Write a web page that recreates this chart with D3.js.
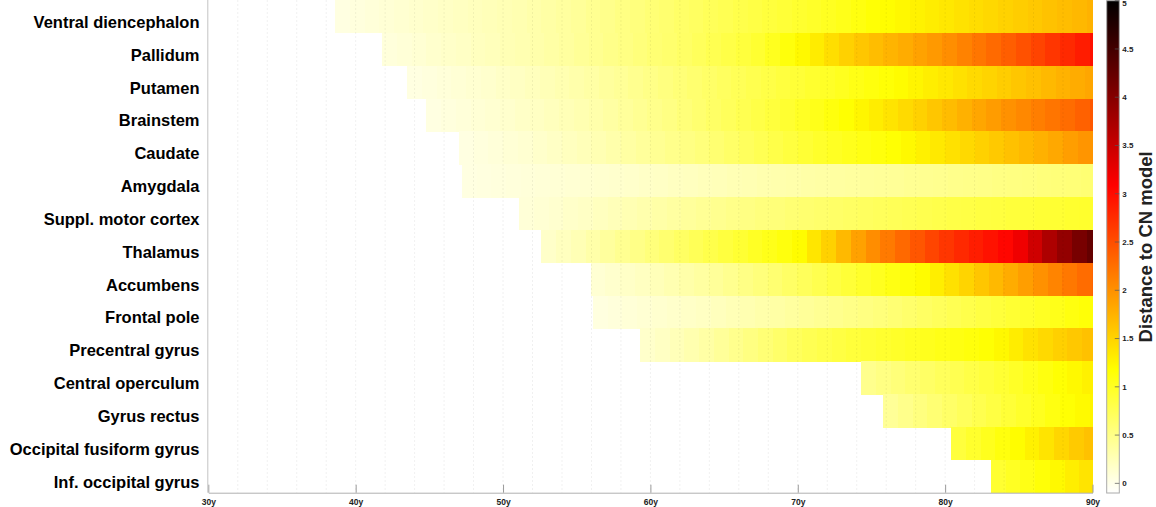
<!DOCTYPE html>
<html>
<head>
<meta charset="utf-8">
<script src="https://cdn.jsdelivr.net/npm/d3@7"></script>
<style>
  body { margin: 0; background: #fff; }
  text { font-family: "Liberation Sans", Arial, Helvetica, sans-serif; }
</style>
</head>
<body>
<div id="chart"></div>
<script>
// regions, top to bottom
const regions = ["Ventral diencephalon", "Pallidum", "Putamen", "Brainstem", "Caudate",
  "Amygdala", "Suppl. motor cortex", "Thalamus", "Accumbens", "Frontal pole",
  "Precentral gyrus", "Central operculum", "Gyrus rectus", "Occipital fusiform gyrus",
  "Inf. occipital gyrus"];

// age (years) where each row starts
const startAges = [38.6, 41.8, 43.5, 44.8, 47.0, 47.2, 51.1, 52.6, 55.95, 56.1,
  59.3, 74.3, 75.8, 80.4, 83.1];

// distance to CN model, one value per 1-year cell from the start age up to 90y
const ventralDiencephalon = [0.05,0.07,0.09,0.11,0.13,0.15,0.17,0.19,0.21,0.23,0.25,0.27,0.29,0.32,0.35,0.38,0.41,0.45,0.48,0.52,0.55,0.59,0.62,0.66,0.69,0.73,0.76,0.8,0.83,0.87,0.9,0.94,0.97,1.01,1.05,1.1,1.15,1.19,1.23,1.27,1.31,1.35,1.39,1.43,1.47,1.51,1.55,1.59,1.63,1.67,1.71,1.75];
const pallidum = [0.08,0.1,0.12,0.15,0.17,0.19,0.22,0.24,0.27,0.29,0.32,0.35,0.38,0.42,0.45,0.49,0.52,0.56,0.6,0.63,0.67,0.72,0.77,0.82,0.87,0.93,1.02,1.12,1.22,1.32,1.42,1.52,1.6,1.67,1.74,1.8,1.87,1.94,2.02,2.11,2.2,2.29,2.38,2.48,2.58,2.68,2.78,2.88,2.97];
const putamen = [0.05,0.07,0.09,0.11,0.13,0.15,0.18,0.2,0.23,0.26,0.29,0.32,0.35,0.39,0.42,0.46,0.5,0.54,0.58,0.62,0.66,0.7,0.74,0.78,0.82,0.86,0.9,0.94,0.98,1.02,1.07,1.11,1.15,1.2,1.25,1.3,1.35,1.4,1.45,1.5,1.55,1.6,1.65,1.7,1.75,1.8,1.84];
const brainstem = [0.05,0.07,0.09,0.11,0.13,0.15,0.18,0.2,0.23,0.26,0.29,0.32,0.36,0.4,0.44,0.48,0.52,0.57,0.62,0.67,0.72,0.77,0.82,0.87,0.93,0.99,1.05,1.11,1.17,1.24,1.31,1.38,1.45,1.52,1.6,1.68,1.76,1.84,1.92,2.0,2.07,2.14,2.21,2.28,2.36,2.43];
const caudate = [0.05,0.07,0.09,0.11,0.13,0.16,0.19,0.22,0.25,0.28,0.32,0.36,0.4,0.44,0.48,0.52,0.56,0.61,0.66,0.71,0.76,0.81,0.86,0.91,0.96,1.0,1.04,1.08,1.12,1.16,1.22,1.28,1.34,1.4,1.46,1.52,1.58,1.64,1.7,1.76,1.83,1.9,1.97];
const amygdala = [0.05,0.06,0.07,0.08,0.09,0.1,0.11,0.12,0.13,0.14,0.15,0.16,0.18,0.19,0.21,0.22,0.24,0.25,0.27,0.28,0.3,0.31,0.32,0.34,0.35,0.37,0.38,0.4,0.41,0.42,0.44,0.45,0.46,0.48,0.49,0.5,0.52,0.53,0.54,0.56,0.57,0.58,0.6];
const supplMotor = [0.1,0.12,0.14,0.17,0.19,0.22,0.25,0.28,0.31,0.34,0.37,0.4,0.43,0.46,0.49,0.52,0.55,0.57,0.6,0.62,0.64,0.66,0.68,0.7,0.72,0.74,0.76,0.78,0.8,0.82,0.83,0.85,0.86,0.88,0.89,0.91,0.92,0.94,0.95];
const thalamus = [0.17,0.22,0.27,0.33,0.39,0.45,0.5,0.56,0.62,0.68,0.74,0.8,0.86,0.92,0.99,1.05,1.11,1.2,1.36,1.52,1.7,1.88,2.03,2.17,2.3,2.44,2.57,2.68,2.78,2.87,2.95,3.04,3.2,3.45,3.7,3.9,4.1,4.25];
const accumbens = [0.12,0.15,0.18,0.21,0.25,0.29,0.33,0.37,0.41,0.46,0.51,0.56,0.61,0.67,0.72,0.78,0.84,0.9,0.96,1.02,1.08,1.14,1.2,1.3,1.4,1.5,1.6,1.7,1.8,1.9,2.0,2.1,2.19,2.28,2.33];
const frontalPole = [0.06,0.08,0.1,0.12,0.14,0.16,0.18,0.2,0.23,0.26,0.29,0.32,0.35,0.38,0.41,0.44,0.47,0.5,0.53,0.56,0.6,0.64,0.68,0.72,0.76,0.8,0.84,0.88,0.92,0.96,1.0,1.05,1.1,1.14];
const precentral = [0.16,0.2,0.25,0.3,0.35,0.41,0.47,0.53,0.59,0.65,0.71,0.76,0.8,0.84,0.88,0.91,0.94,0.97,1.0,1.03,1.06,1.09,1.12,1.16,1.23,1.31,1.39,1.46,1.53,1.59,1.64];
const centralOperculum = [0.47,0.52,0.57,0.62,0.67,0.72,0.77,0.82,0.87,0.92,0.98,1.04,1.1,1.16,1.22,1.28];
const gyrusRectus = [0.42,0.48,0.54,0.6,0.66,0.72,0.78,0.84,0.9,0.96,1.02,1.09,1.16,1.21,1.25];
const occFusiform = [0.87,0.95,1.03,1.11,1.19,1.28,1.38,1.48,1.57,1.64];
const infOccipital = [0.93,1.0,1.07,1.14,1.22,1.3,1.38];

const rowValues = [ventralDiencephalon, pallidum, putamen, brainstem, caudate, amygdala,
  supplMotor, thalamus, accumbens, frontalPole, precentral, centralOperculum,
  gyrusRectus, occFusiform, infOccipital];

const ageTicks = [30, 40, 50, 60, 70, 80, 90];
const cbarTicks = [0, 0.5, 1, 1.5, 2, 2.5, 3, 3.5, 4, 4.5, 5];

// layout
const W = 1156, H = 507;
const plot = { left: 208.3, right: 1092.5, top: 0, bottom: 492.7 };

const svg = d3.select("#chart").append("svg")
  .attr("width", W).attr("height", H);

const x = d3.scaleLinear().domain([30, 90]).range([plot.left, plot.right]);
const y = d3.scaleBand().domain(regions).range([plot.top, plot.bottom]).padding(0);

// flipped "hot" colormap: white -> yellow -> red -> black
const vmin = -0.1, vmax = 5;
const hotStops = [vmin, vmin + 0.25 * (vmax - vmin), vmin + 0.625 * (vmax - vmin), vmax];
const color = d3.scaleLinear().domain(hotStops)
  .range(["#ffffff", "#ffff00", "#ff0000", "#000000"]).clamp(true);

// flatten cells
const cells = [];
regions.forEach((r, i) => {
  rowValues[i].forEach((v, k) => {
    const a0 = startAges[i] + k;
    const a1 = Math.min(a0 + 1, 90);
    cells.push({ region: r, a0, a1, v });
  });
});

svg.append("g").selectAll("rect")
  .data(cells)
  .enter()
  .append("rect")
  .attr("x", d => x(d.a0))
  .attr("y", d => y(d.region))
  .attr("width", d => d.a1 < 90 ? x(d.a1) - x(d.a0) + 0.6 : x(d.a1) - x(d.a0))
  .attr("height", y.bandwidth() + 0.5)
  .attr("fill", d => color(d.v))
  .attr("shape-rendering", "crispEdges");

// dotted grid every 2 years, on top of the cells
svg.append("g").selectAll("line")
  .data(d3.range(32, 90, 2))
  .enter()
  .append("line")
  .attr("x1", d => x(d)).attr("x2", d => x(d))
  .attr("y1", plot.top).attr("y2", plot.bottom)
  .attr("stroke", "#000")
  .attr("stroke-opacity", 0.06)
  .attr("stroke-dasharray", "2,2");

// x axis
const xAxis = svg.append("g")
  .attr("transform", `translate(0,${plot.bottom})`)
  .call(d3.axisBottom(x).tickValues(ageTicks).tickSizeInner(-8).tickSizeOuter(0)
    .tickPadding(6).tickFormat(d => d + "y"));
xAxis.select(".domain").attr("stroke", "#b0b0b0");
xAxis.selectAll(".tick line").attr("stroke", "#9a9a9a");
xAxis.selectAll(".tick text")
  .attr("fill", "#222")
  .style("font-size", "8.5px")
  .style("font-weight", "bold")
  .style("font-family", "'Liberation Sans', Arial, sans-serif");

// y axis line
svg.append("line")
  .attr("x1", plot.left - 0.5).attr("x2", plot.left - 0.5)
  .attr("y1", plot.top).attr("y2", plot.bottom)
  .attr("stroke", "#c4c4c4");

// region labels
svg.append("g").selectAll("text")
  .data(regions)
  .enter()
  .append("text")
  .attr("x", 199.5)
  .attr("y", d => y(d) + y.bandwidth() / 2 + 11.4)
  .attr("text-anchor", "end")
  .style("font-size", "16.5px")
  .style("font-weight", "bold")
  .attr("fill", "#000")
  .text(d => d);

// colorbar
const cb = { x: 1106.7, w: 12.6 };
const cbY = d3.scaleLinear().domain([vmin, vmax]).range([493, 0.7]);

const grad = svg.append("defs").append("linearGradient")
  .attr("id", "hotGrad")
  .attr("x1", 0).attr("y1", 1).attr("x2", 0).attr("y2", 0);
grad.selectAll("stop")
  .data(hotStops)
  .enter()
  .append("stop")
  .attr("offset", d => (d - vmin) / (vmax - vmin))
  .attr("stop-color", d => color(d));

svg.append("rect")
  .attr("x", cb.x).attr("y", cbY(vmax))
  .attr("width", cb.w).attr("height", cbY(vmin) - cbY(vmax))
  .attr("fill", "url(#hotGrad)")
  .attr("stroke", "#aaa")
  .attr("stroke-width", 1);

const cbTick = svg.append("g").selectAll("g")
  .data(cbarTicks)
  .enter()
  .append("g")
  .attr("transform", d => `translate(0,${cbY(d)})`);

cbTick.append("line")
  .attr("x1", cb.x + cb.w - 4.5).attr("x2", cb.x + cb.w)
  .attr("stroke", "#555")
  .attr("stroke-opacity", 0.7);

// top label would fall off the page, nudge it down a bit
cbTick.append("text")
  .attr("x", cb.x + cb.w + 3)
  .attr("y", d => Math.max(0, 3.4 - cbY(d)))
  .attr("dy", "0.35em")
  .style("font-size", "8px")
  .style("font-weight", "bold")
  .attr("fill", "#222")
  .text(d => d);

// colorbar label
svg.append("text")
  .attr("transform", `translate(1151.8,${cbY((vmin + vmax) / 2)}) rotate(-90)`)
  .attr("text-anchor", "middle")
  .style("font-size", "18.5px")
  .style("font-weight", "bold")
  .attr("fill", "#222")
  .text("Distance to CN model");
</script>
</body>
</html>
